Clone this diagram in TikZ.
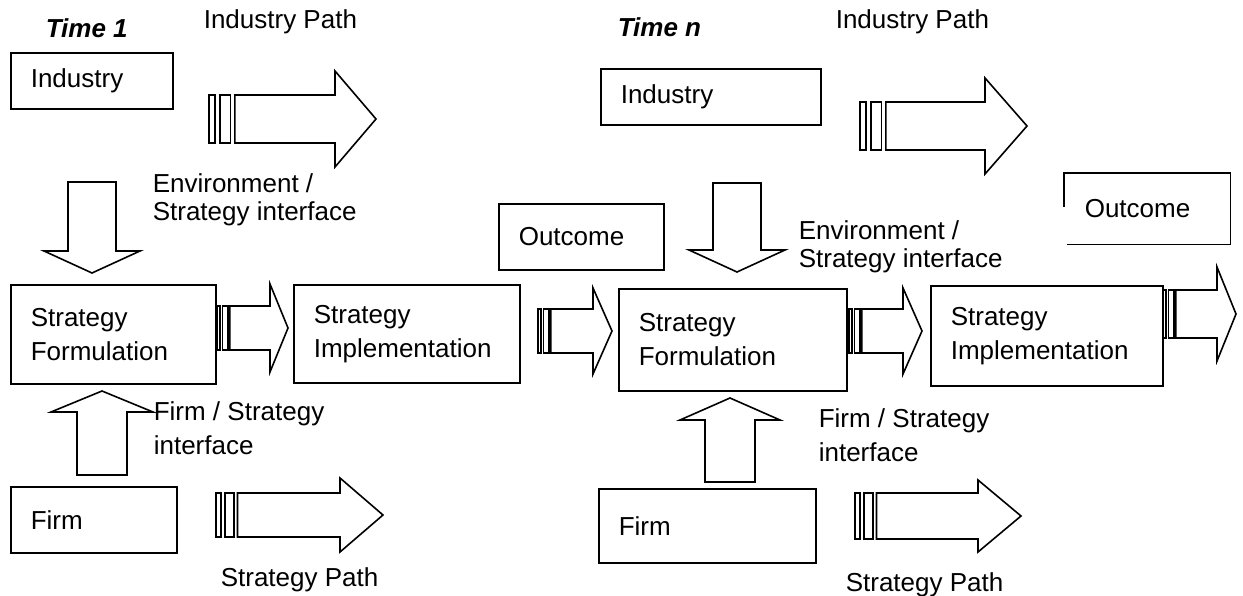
\documentclass[tikz,border=0pt]{standalone}
\usepackage{fontspec}
\setmainfont{Liberation Sans}
\newcommand{\bodyfont}{\fontsize{26}{34}\selectfont}
\newcommand{\tightfont}{\fontsize{26}{28}\selectfont}
% striped block arrow: x0, y centre, head x, tip x, body half, head half, stripe unit
\newcommand{\stripedarrow}[7]{%
	\draw (#1,{#2-#5}) rectangle ({#1+#7},{#2+#5});
	\draw ({#1+1.8*#7},{#2-#5}) rectangle ({#1+3.6*#7},{#2+#5});
	\draw ({#1+4.3*#7},{#2-#5}) -- (#3,{#2-#5}) -- (#3,{#2-#6}) -- (#4,#2) -- (#3,{#2+#6}) -- (#3,{#2+#5}) -- ({#1+4.3*#7},{#2+#5}) -- cycle;}
% vertical block arrow: x centre, tail y, head base y, tip y, body half, head half
\newcommand{\vblock}[6]{%
	\draw ({#1-#5},#2) -- ({#1-#5},#3) -- ({#1-#6},#3) -- (#1,#4) -- ({#1+#6},#3) -- ({#1+#5},#3) -- ({#1+#5},#2) -- cycle;}
\tikzset{
	box/.style={draw, anchor=north west, inner xsep=20pt, inner ysep=4pt, align=left, font=\bodyfont},
	lbl/.style={anchor=west, inner sep=0pt, align=left, font=\bodyfont},
	lbltight/.style={lbl, font=\tightfont}
}
\begin{document}
\begin{tikzpicture}[x=1pt, y=-1pt, line width=1.6pt, line join=miter]
		\useasboundingbox (0,0) rectangle (1243,596);
		% headings
		\node[lbl] (time1) at (45,28) {\textbf{\textit{Time 1}}};
		\node[lbl] (ipath1) at (203,22) {Industry Path};
		\node[lbl] (timen) at (617,27) {\textbf{\textit{Time n}}};
		\node[lbl] (ipath2) at (835,22) {Industry Path};
		% time 1
		\node[box, text width=122pt, minimum height=56pt] (ind1) at (10,52) {Industry};
		\node[box, text width=165pt, minimum height=99pt] (form1) at (10,284) {Strategy\\Formulation};
		\node[box, text width=186pt, minimum height=98pt] (impl1) at (293,284) {Strategy\\Implementation};
		\node[box, text width=126pt, minimum height=66pt] (firm1) at (10,486) {Firm};
		\node[box, text width=125pt, minimum height=66pt] (out1) at (498,203) {Outcome};
		\node[lbltight] (env1) at (152,200) {Environment /\\Strategy interface};
		\node[lbl] (fsi1) at (153,428) {Firm / Strategy\\interface};
		\node[lbl] (spath1) at (220,580) {Strategy Path};
		\vblock{92}{182}{251}{273}{24}{48}
		\vblock{102}{475}{412}{391}{25}{51}
		\stripedarrow{209}{119}{335}{376}{24}{48}{6}
		\stripedarrow{217}{328}{270}{288}{22}{44}{3}
		\stripedarrow{216}{515}{340}{383}{22}{37}{5}
		\stripedarrow{538}{331}{593}{612}{22}{43}{3}
		% time n
		\node[box, text width=180pt, minimum height=56pt] (ind2) at (600,68) {Industry};
		\node[box, text width=188pt, minimum height=102pt] (form2) at (618,288) {Strategy\\Formulation};
		\node[box, text width=192pt, minimum height=100pt] (impl2) at (930,285) {Strategy\\Implementation};
		\node[box, text width=177pt, minimum height=74pt] (firm2) at (598,488) {Firm};
		\node[box, draw=none, text width=125pt, minimum height=70pt] (out2) at (1064,173) {Outcome};
		\draw ([yshift=-34pt]out2.north west) -- (out2.north west) -- (out2.north east) -- (out2.south east) -- ([xshift=3pt]out2.south west);
		\node[lbltight] (env2) at (798,247) {Environment /\\Strategy interface};
		\node[lbl] (fsi2) at (818,435) {Firm / Strategy\\interface};
		\node[lbl] (spath2) at (845,585) {Strategy Path};
		\vblock{737}{183}{250}{272}{24}{48}
		\vblock{730}{482}{420}{398}{25}{50}
		\stripedarrow{860}{126}{985}{1027}{24}{48}{6}
		\stripedarrow{849}{331}{903}{922}{22}{43}{3}
		\stripedarrow{1163}{314}{1217}{1236}{24}{47}{3}
		\stripedarrow{855}{516}{978}{1021}{23}{36}{5}
	\end{tikzpicture}
\end{document}
